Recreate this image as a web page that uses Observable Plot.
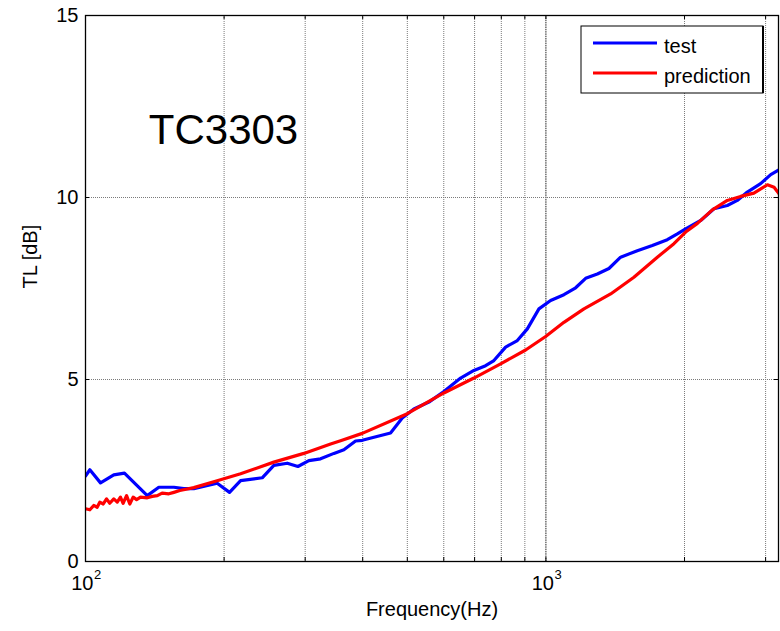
<!DOCTYPE html>
<html>
<head>
<meta charset="utf-8">
<script src="https://cdn.jsdelivr.net/npm/d3@7"></script>
<script src="https://cdn.jsdelivr.net/npm/@observablehq/plot@0.6"></script>
<style>
  html, body { margin: 0; padding: 0; background: #fff; }
  #chart { width: 780px; height: 631px; }
  svg { font-family: Arial, "Liberation Sans", sans-serif; }
</style>
</head>
<body>
<div id="chart"></div>
<script>
// ---- data ----
const testFreq = [100, 102.2, 107.8, 115.2, 121.5, 136.2, 144.3, 155.6, 163.5, 171.9, 193.2, 205.5, 217.2, 242, 256.5, 274.3, 289.3, 305.6, 324, 346.4, 364.1, 386, 399.1, 459.8, 487.5, 516.7, 557, 600.3, 652.7, 697.6, 739.6, 771, 817.5, 866.8, 911.2, 965.6, 1023.8, 1094.2, 1160.2, 1219.7, 1293.2, 1370.5, 1452.9, 1579.5, 1702.5, 1835.2, 1929.4, 2011.2, 2168.7, 2317.4, 2477.3, 2604.4, 2737.9, 2926.2, 3078, 3209];
const testTL = [2.35, 2.52, 2.16, 2.38, 2.43, 1.81, 2.04, 2.04, 2.0, 2.0, 2.15, 1.90, 2.22, 2.30, 2.64, 2.70, 2.61, 2.77, 2.82, 2.97, 3.07, 3.31, 3.33, 3.53, 3.94, 4.19, 4.38, 4.67, 5.04, 5.25, 5.38, 5.52, 5.89, 6.07, 6.39, 6.94, 7.17, 7.33, 7.52, 7.78, 7.90, 8.05, 8.36, 8.54, 8.68, 8.84, 9.00, 9.14, 9.37, 9.69, 9.78, 9.92, 10.15, 10.38, 10.63, 10.76];

const predFreq = [100, 102.2, 104.2, 106, 107.4, 109.3, 111.1, 112.9, 115.2, 117.2, 119.1, 120.7, 122.8, 124.8, 126.9, 129.1, 131.7, 136.2, 139.6, 143.2, 146.7, 151.7, 155.6, 160.3, 171.9, 193.2, 217.2, 256.5, 298.1, 340.7, 358.1, 399.1, 499.9, 600.3, 697.6, 797.3, 903.5, 998.5, 1094.2, 1209.4, 1382.2, 1552.8, 1745.7, 1896.8, 2011.2, 2133.2, 2298.9, 2477.3, 2647.7, 2829.7, 3027.6, 3130, 3209];
const predTL = [1.45, 1.42, 1.54, 1.49, 1.63, 1.58, 1.72, 1.60, 1.72, 1.63, 1.77, 1.60, 1.81, 1.58, 1.77, 1.70, 1.77, 1.75, 1.79, 1.81, 1.88, 1.86, 1.90, 1.95, 2.03, 2.22, 2.41, 2.73, 2.97, 3.23, 3.32, 3.52, 4.06, 4.63, 5.04, 5.43, 5.81, 6.18, 6.57, 6.94, 7.35, 7.81, 8.36, 8.73, 9.05, 9.29, 9.66, 9.92, 10.03, 10.12, 10.35, 10.28, 10.10];

const xGrid = [200, 300, 400, 500, 600, 700, 800, 900, 2000, 3000];
const xMajor = [100, 1000];
const xMajorExp = ["2", "3"];
const yTicks = [0, 5, 10, 15];
const yGrid = [5, 10];
const seriesNames = ["test", "prediction"];
const seriesColors = ["#0000ff", "#ff0000"];
const plotTitle = "TC3303";
const xLabel = "Frequency(Hz)";
const yLabel = "TL [dB]";

const test = testFreq.map((f, i) => ({f, v: testTL[i]}));
const pred = predFreq.map((f, i) => ({f, v: predTL[i]}));

const W = 780, H = 631, mL = 85, mR = 2, mT = 15, mB = 70;
const innerW = W - mL - mR, innerH = H - mT - mB;
const tick = 4;

const chart = Plot.plot({
  width: W, height: H,
  marginLeft: mL, marginRight: mR, marginTop: mT, marginBottom: mB,
  style: {fontFamily: "Arial, 'Liberation Sans', sans-serif", background: "#fff"},
  x: {type: "log", domain: [100, 3200], axis: null},
  y: {domain: [0, 15], axis: null},
  marks: [
    // grid
    Plot.ruleX(xGrid, {stroke: "#7a7a7a", strokeWidth: 1, strokeDasharray: "1,1"}),
    Plot.ruleX([1000], {stroke: "#222", strokeWidth: 1, strokeDasharray: "1.5,0.8"}),
    Plot.ruleY(yGrid, {stroke: "#7a7a7a", strokeWidth: 1, strokeDasharray: "1,1"}),
    // inward ticks
    Plot.ruleX(xGrid.concat(xMajor), {stroke: "#000", insetTop: innerH - tick}),
    Plot.ruleX(xGrid.concat(xMajor), {stroke: "#000", insetBottom: innerH - tick}),
    Plot.ruleY(yTicks, {stroke: "#000", insetRight: innerW - tick}),
    Plot.ruleY(yTicks, {stroke: "#000", insetLeft: innerW - tick}),
    // data
    Plot.line(test, {x: "f", y: "v", stroke: seriesColors[0], strokeWidth: 3.2, clip: true}),
    Plot.line(pred, {x: "f", y: "v", stroke: seriesColors[1], strokeWidth: 3.2, clip: true}),
    // frame
    Plot.frame({stroke: "#000", strokeWidth: 1.3}),
    // y tick labels
    Plot.text(yTicks, {y: d => d, text: d => String(d), frameAnchor: "left", dx: -7, textAnchor: "end", fontSize: 20, fill: "#000"}),
    // x tick labels 10^n
    Plot.text(xMajor, {x: d => d, text: () => "10", frameAnchor: "bottom", dy: 28.6, dx: 8, textAnchor: "end", fontSize: 20, fill: "#000"}),
    Plot.text(xMajor, {x: d => d, text: (d, i) => xMajorExp[i], frameAnchor: "bottom", dy: 17, dx: 8.5, textAnchor: "start", fontSize: 13, fill: "#000"}),
    // axis labels
    Plot.text([xLabel], {frameAnchor: "bottom", dy: 54.6, fontSize: 20, fill: "#000"}),
    Plot.text([yLabel], {frameAnchor: "left", dx: -55.4, rotate: -90, fontSize: 20, fill: "#000"}),
    // title annotation
    Plot.text([plotTitle], {frameAnchor: "top-left", dx: 138, dy: 98.6, fontSize: 42, fill: "#000", textAnchor: "middle"})
  ]
});

// legend inside axes (top-right)
const svg = d3.select(chart);
const lg = svg.append("g").attr("class", "legend").attr("text-anchor", "start");
const lx = 581, ly = 26, lw = 182, lh = 67;
lg.append("rect").attr("x", lx).attr("y", ly).attr("width", lw).attr("height", lh)
  .attr("fill", "#fff").attr("stroke", "#000").attr("stroke-width", 1);
lg.append("line").attr("x1", lx + lw).attr("x2", lx + lw).attr("y1", ly).attr("y2", ly + lh)
  .attr("stroke", "#000").attr("stroke-width", 2);
seriesNames.forEach((name, i) => {
  const yy = ly + 17 + i * 30;
  lg.append("line").attr("x1", lx + 12).attr("x2", lx + 76).attr("y1", yy).attr("y2", yy)
    .attr("stroke", seriesColors[i]).attr("stroke-width", 3);
  lg.append("text").attr("x", lx + 83).attr("y", yy + 10)
    .attr("text-anchor", "start").attr("font-size", 20).attr("fill", "#000").text(name);
});

document.getElementById("chart").appendChild(chart);
</script>
</body>
</html>
